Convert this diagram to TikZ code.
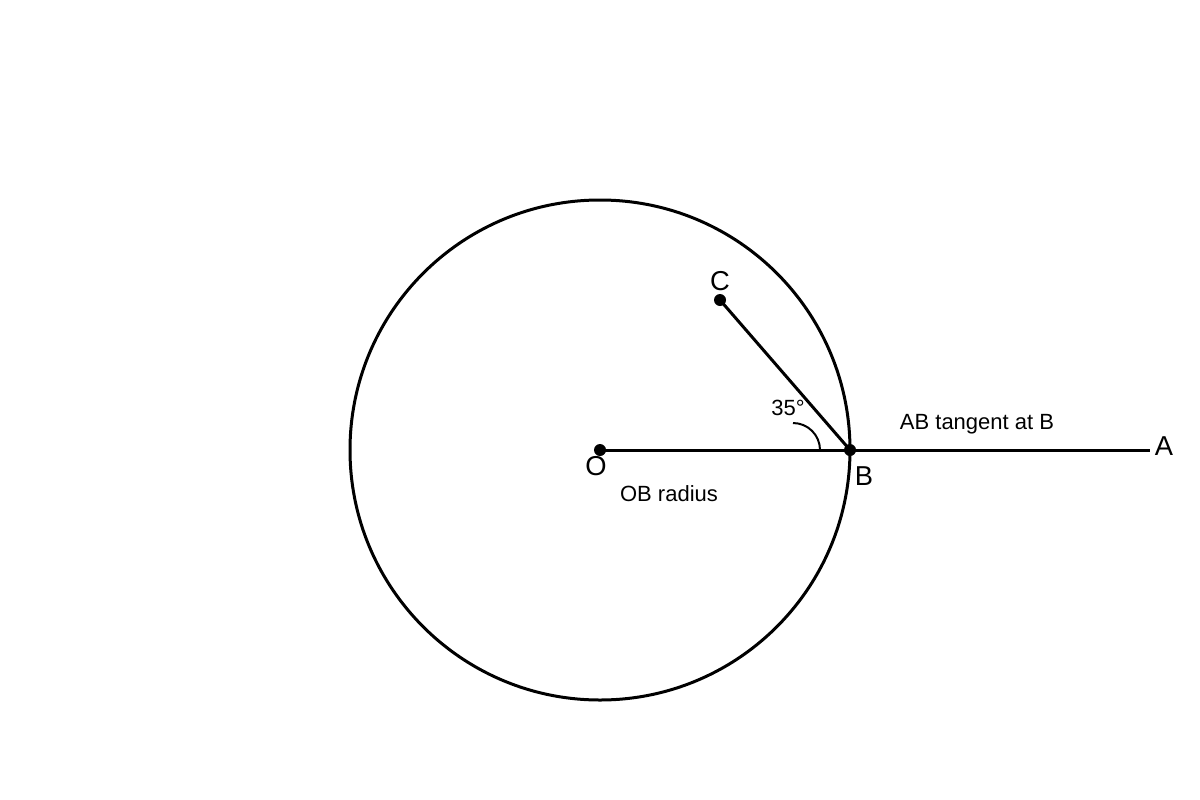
\documentclass[tikz,border=0pt]{standalone}
\usepackage{fontspec}
\setmainfont{Liberation Sans}
\begin{document}
\begin{tikzpicture}[x=0.75pt,y=-0.75pt,
  geo/.style={line width=2.25pt,black},
  dot/.style={circle,fill=black,inner sep=0pt,minimum size=9pt},
  biglbl/.style={font=\fontsize{20.5}{22}\selectfont,inner sep=0pt},
  smalllbl/.style={font=\fontsize{16.5}{18}\selectfont,inner sep=0pt}]
\useasboundingbox (0,0) rectangle (1200,800);
\coordinate (O) at (600,450);
\coordinate (B) at (850,450);
\coordinate (A) at (1150,450);
\coordinate (C) at (720,300);
\draw[geo] (O) circle[radius=250];
\draw[geo] (O) -- (B);
\draw[geo] (B) -- (A);
\draw[geo] (C) -- (B);
\draw[line width=1.5pt] (793,423) arc[start angle=-90,end angle=0,radius=27];
\node[dot] (Od) at (O) {};
\node[dot] (Bd) at (B) {};
\node[dot] (Cd) at (C) {};
\node[biglbl] (lC) at (720,281) {C};
\node[biglbl] (lO) at (596,466) {O};
\node[biglbl] (lB) at (864,476) {B};
\node[biglbl] (lA) at (1164,446) {A};
\node[smalllbl] (ang) at (788,408) {35°};
\node[smalllbl] (rad) at (669,494) {OB radius};
\node[smalllbl] (tan) at (977,424) {AB tangent at B};
\end{tikzpicture}
\end{document}
